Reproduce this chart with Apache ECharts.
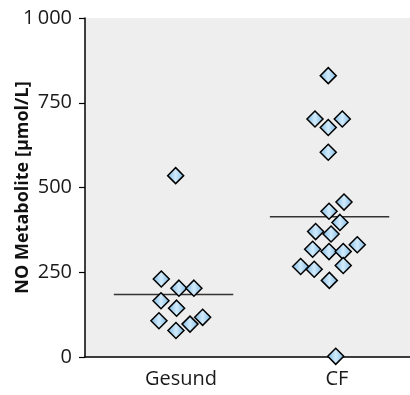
<!DOCTYPE html>
<html>
<head>
<meta charset="utf-8">
<script src="https://cdn.jsdelivr.net/npm/echarts@6/dist/echarts.min.js"></script>
<style>
  html, body { margin: 0; padding: 0; background: #fff; }
  #chart { width: 410px; height: 395px; }
</style>
</head>
<body>
<div id="chart"></div>
<script>
// groups, plotted at x = 0 and x = 1
const categories = ['Gesund', 'CF'];

// NO metabolite values per subject (µmol/L)
const gesundValues = [535, 230, 203, 203, 166, 144, 107, 117, 97, 78];
const cfValues = [830, 702, 702, 677, 604, 457, 430, 397, 370, 363, 318, 311, 311, 331, 267, 259, 270, 226, 2];

// horizontal scatter offset of each point from its group centre
const gesundJitter = [-0.034, -0.126, -0.013, 0.083, -0.128, -0.028, -0.141, 0.139, 0.058, -0.032];
const cfJitter = [-0.056, -0.141, 0.034, -0.056, -0.056, 0.045, -0.051, 0.019, -0.137, -0.038, -0.156, -0.051, 0.040, 0.130, -0.233, -0.146, 0.040, -0.049, -0.008];

// group centre line value
const centreLines = [184, 414];

const font = '"Open Sans", "Noto Sans", sans-serif';

function points(values, jitter, pos) {
  return values.map((v, i) => [pos + jitter[i], v]);
}

const diamondFill = new echarts.graphic.LinearGradient(0, 0, 1, 0, [
  { offset: 0, color: '#7ab8e4' },
  { offset: 0.5, color: '#d2ebfb' },
  { offset: 1, color: '#7ab8e4' }
]);

const chart = echarts.init(document.getElementById('chart'));

function centreLine(pos, value) {
  return {
    type: 'line',
    data: [[pos - 0.43, value], [pos + 0.335, value]],
    symbol: 'none',
    lineStyle: { color: '#333', width: 1.5 },
    z: 1
  };
}

function dots(values, jitter, pos) {
  return {
    type: 'scatter',
    data: points(values, jitter, pos),
    symbol: 'diamond',
    symbolSize: 16,
    itemStyle: { color: diamondFill, borderColor: '#000', borderWidth: 1.5, opacity: 1 },
    clip: false,
    z: 3
  };
}

const option = {
  animation: false,
  grid: {
    left: 85, right: 0, top: 18, bottom: 38,
    outerBoundsMode: 'none',
    containLabel: false,
    show: true, backgroundColor: '#eeeeee', borderWidth: 0
  },
  xAxis: {
    type: 'value',
    min: -0.615,
    max: 1.468,
    splitLine: { show: false },
    axisTick: { show: false },
    axisLine: { show: true, onZero: false, lineStyle: { color: '#000', width: 1.5 } },
    axisLabel: {
      customValues: [0, 1],
      formatter: v => categories[Math.round(v)],
      color: '#1a1a1a',
      fontSize: 20,
      fontFamily: font,
      margin: 12
    }
  },
  yAxis: {
    type: 'value',
    min: 0,
    max: 1000,
    interval: 250,
    name: 'NO Metabolite [µmol/L]',
    nameLocation: 'middle',
    nameGap: 53,
    nameMoveOverlap: false,
    nameTextStyle: { fontSize: 18, fontWeight: 'bold', color: '#111', fontFamily: font },
    splitLine: { show: false },
    axisLine: { show: true, onZero: false, lineStyle: { color: '#000', width: 1.5 } },
    axisTick: { show: true, length: 6, lineStyle: { color: '#000', width: 1.2 } },
    axisLabel: {
      color: '#1a1a1a',
      fontSize: 20,
      fontFamily: font,
      margin: 13,
      formatter: v => (v >= 1000 ? '1\u2009000' : String(v))
    }
  },
  series: [
    centreLine(0, centreLines[0]),
    centreLine(1, centreLines[1]),
    dots(gesundValues, gesundJitter, 0),
    dots(cfValues, cfJitter, 1)
  ]
};

chart.setOption(option);
</script>
</body>
</html>
